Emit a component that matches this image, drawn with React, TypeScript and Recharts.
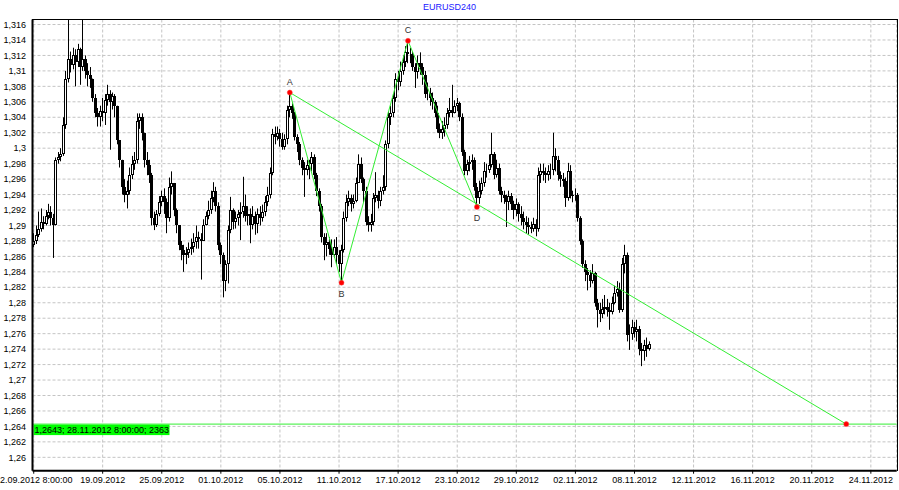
import React from 'react';
import { ComposedChart, Bar, Line, XAxis, YAxis, CartesianGrid, ReferenceLine, ReferenceDot } from 'recharts';

// prices in pips above 1.2600 (EURUSD, 4h bars)
const opens = [
  275, 280, 288, 296, 305, 302, 312, 318, 310, 300,
  385, 388, 392, 430, 490, 515, 508, 520, 512, 528,
  505, 515, 500, 495, 490, 465, 445, 440, 448, 445,
  462, 470, 460, 468, 455, 410, 385, 350, 340, 345,
  365, 380, 385, 435, 440, 420, 385, 378, 365, 310,
  300, 315, 330, 338, 330, 310, 350, 355, 320, 300,
  275, 268, 262, 265, 270, 272, 278, 285, 282, 280,
  300, 312, 320, 335, 345, 325, 275, 262, 228, 250,
  294, 320, 305, 310, 315, 318, 325, 312, 315, 300,
  312, 302, 315, 310, 318, 330, 340, 368, 418, 415,
  420, 412, 402, 412, 450, 455, 445, 415, 405, 385,
  375, 372, 378, 380, 388, 365, 345, 325, 285, 275,
  278, 270, 262, 272, 262, 250, 268, 310, 330, 335,
  328, 332, 355, 380, 360, 345, 305, 300, 305, 335,
  340, 332, 345, 350, 405, 440, 445, 465, 490, 485,
  500, 512, 525, 522, 522, 505, 498, 510, 505, 495,
  470, 472, 465, 460, 445, 425, 420, 425, 430, 445,
  450, 445, 455, 458, 440, 395, 370, 380, 382, 385,
  350, 335, 345, 355, 370, 372, 378, 392, 365, 375,
  345, 340, 335, 330, 338, 328, 320, 328, 315, 310,
  305, 300, 298, 296, 302, 296, 365, 370, 368, 365,
  370, 372, 390, 385, 365, 360, 358, 335, 370, 340,
  338, 340, 310, 280, 250, 240, 236, 228, 238, 200,
  190, 185, 192, 195, 190, 188, 200, 212, 218, 190,
  250, 262, 158, 160, 168, 162, 166, 140, 138, 145,
  140,
];
const highs = [
  290, 300, 318, 322, 312, 320, 328, 325, 315, 388,
  395, 400, 440, 500, 570, 525, 530, 528, 535, 530,
  570, 520, 510, 505, 490, 470, 452, 455, 465, 470,
  482, 475, 472, 470, 455, 410, 385, 360, 358, 375,
  390, 395, 445, 445, 445, 420, 395, 385, 368, 318,
  320, 338, 345, 348, 335, 362, 370, 355, 322, 300,
  280, 275, 272, 278, 283, 290, 300, 292, 290, 308,
  318, 332, 345, 356, 350, 330, 278, 265, 255, 300,
  337, 322, 318, 320, 330, 363, 340, 325, 322, 325,
  318, 322, 325, 327, 338, 350, 375, 425, 428, 428,
  425, 420, 418, 455, 472, 458, 447, 418, 408, 388,
  382, 385, 385, 395, 392, 368, 348, 328, 290, 290,
  285, 282, 282, 285, 268, 275, 318, 340, 345, 340,
  340, 362, 392, 388, 362, 350, 312, 315, 342, 369,
  345, 350, 365, 410, 448, 455, 470, 497, 500, 512,
  520, 532, 539, 530, 525, 510, 520, 524, 510, 500,
  485, 478, 472, 462, 455, 432, 435, 440, 452, 465,
  482, 462, 465, 460, 445, 398, 385, 390, 392, 388,
  355, 358, 362, 382, 380, 392, 420, 395, 385, 380,
  350, 345, 340, 345, 342, 332, 335, 330, 325, 318,
  312, 310, 305, 310, 308, 375, 380, 380, 375, 378,
  380, 420, 400, 390, 370, 368, 362, 381, 378, 345,
  348, 342, 312, 282, 255, 245, 242, 250, 240, 205,
  200, 205, 210, 205, 200, 208, 222, 228, 226, 258,
  275, 265, 172, 178, 175, 178, 170, 148, 152, 155,
  150,
];
const lows = [
  272, 276, 285, 292, 295, 300, 308, 300, 258, 300,
  380, 383, 390, 425, 485, 498, 502, 480, 505, 482,
  500, 490, 480, 478, 460, 440, 428, 428, 435, 430,
  455, 398, 450, 440, 405, 375, 340, 330, 322, 340,
  360, 372, 380, 425, 410, 375, 365, 355, 300, 294,
  298, 312, 325, 315, 290, 305, 340, 312, 290, 268,
  255, 240, 250, 258, 262, 265, 270, 270, 230, 280,
  300, 308, 315, 330, 318, 268, 250, 207, 215, 225,
  290, 295, 296, 300, 281, 310, 305, 300, 277, 295,
  288, 290, 300, 305, 312, 325, 335, 365, 405, 410,
  402, 398, 398, 405, 440, 438, 410, 395, 378, 365,
  337, 365, 360, 370, 360, 338, 318, 278, 255, 260,
  262, 246, 258, 250, 240, 226, 265, 305, 325, 318,
  322, 330, 355, 355, 330, 300, 292, 292, 300, 330,
  322, 325, 340, 345, 400, 430, 440, 460, 475, 480,
  495, 505, 510, 510, 500, 478, 490, 495, 482, 465,
  462, 455, 450, 440, 420, 413, 412, 415, 425, 440,
  440, 445, 448, 435, 390, 365, 365, 370, 372, 345,
  324, 328, 340, 350, 362, 368, 375, 360, 362, 340,
  330, 328, 298, 320, 320, 308, 312, 305, 300, 295,
  290, 288, 290, 292, 286, 292, 355, 358, 355, 358,
  360, 365, 370, 358, 350, 350, 324, 332, 335, 330,
  332, 305, 275, 245, 228, 216, 220, 225, 195, 168,
  175, 180, 185, 182, 165, 185, 198, 208, 187, 188,
  238, 150, 139, 152, 155, 150, 132, 118, 125, 130,
  138,
];
const closes = [
  280, 288, 296, 305, 302, 312, 318, 310, 300, 385,
  388, 392, 430, 490, 515, 508, 520, 512, 528, 505,
  515, 500, 495, 490, 465, 445, 440, 448, 445, 462,
  470, 460, 468, 455, 410, 385, 350, 340, 345, 365,
  380, 385, 435, 440, 420, 385, 378, 365, 310, 300,
  315, 330, 338, 330, 310, 350, 355, 320, 300, 275,
  268, 262, 265, 270, 272, 278, 285, 282, 280, 300,
  312, 320, 335, 345, 325, 275, 262, 228, 250, 294,
  320, 305, 310, 315, 318, 325, 312, 315, 300, 312,
  302, 315, 310, 318, 330, 340, 368, 418, 415, 420,
  412, 402, 412, 450, 455, 445, 415, 405, 385, 375,
  372, 378, 380, 388, 365, 345, 325, 285, 275, 278,
  270, 262, 272, 262, 250, 268, 310, 330, 335, 328,
  332, 355, 380, 360, 345, 305, 300, 305, 335, 340,
  332, 345, 350, 405, 440, 445, 465, 490, 485, 500,
  512, 525, 522, 522, 505, 498, 510, 505, 495, 470,
  472, 465, 460, 445, 425, 420, 425, 430, 445, 450,
  445, 455, 458, 440, 395, 370, 380, 382, 385, 350,
  335, 345, 355, 370, 372, 378, 392, 365, 375, 345,
  340, 335, 330, 338, 328, 320, 328, 315, 310, 305,
  300, 298, 296, 302, 296, 365, 370, 368, 365, 370,
  372, 390, 385, 365, 360, 358, 335, 370, 340, 338,
  340, 310, 280, 250, 240, 236, 228, 238, 200, 190,
  185, 192, 195, 190, 188, 200, 212, 218, 190, 250,
  262, 158, 160, 168, 162, 166, 140, 138, 145, 140,
  146,
];

const totalSlots = 351; // bars incl. empty future area
const xTickIdx = [0, 28, 52, 76, 100, 124, 148, 172, 196, 220, 244, 268, 292, 316, 340];
const xTickLabels = [
  '12.09.2012 8:00:00', '19.09.2012', '25.09.2012', '01.10.2012', '05.10.2012',
  '11.10.2012', '17.10.2012', '23.10.2012', '29.10.2012', '02.11.2012',
  '08.11.2012', '12.11.2012', '16.11.2012', '20.11.2012', '24.11.2012',
];
const yTicks = [
  1.26, 1.262, 1.264, 1.266, 1.268, 1.27, 1.272, 1.274, 1.276, 1.278,
  1.28, 1.282, 1.284, 1.286, 1.288, 1.29, 1.292, 1.294, 1.296, 1.298,
  1.3, 1.302, 1.304, 1.306, 1.308, 1.31, 1.312, 1.314, 1.316,
];

const patternIdx = [104, 125, 152, 180];
const patternVals = [1.3072, 1.2826, 1.3139, 1.2924];
const patternNames = ['A', 'B', 'C', 'D'];
const targetIdx = 330;
const targetVal = 1.2643;
const targetText = '1,2643; 28.11.2012 8:00:00; 2363';
const title = 'EURUSD240';

const FONT = "'Liberation Sans', Arial, sans-serif";
const GREEN = '#33ee33';

const toPrice = (p: number) => 1.26 + p / 10000;

const rows = Array.from({ length: totalSlots }, (_, i) => {
  const row: any = { i };
  if (i < closes.length) {
    row.o = toPrice(opens[i]);
    row.h = toPrice(highs[i]);
    row.l = toPrice(lows[i]);
    row.c = toPrice(closes[i]);
    row.range = [row.l, row.h];
  }
  const k = patternIdx.indexOf(i);
  if (k >= 0) row.abcd = patternVals[k];
  if (i === patternIdx[0]) row.ae = patternVals[0];
  if (i === targetIdx) row.ae = targetVal;
  return row;
});

const fmtY = (v: number) => String(parseFloat(v.toFixed(3))).replace('.', ',');

function Candle(props: any) {
  const { x, y, width, height, payload } = props;
  if (!payload || payload.h == null) return null;
  const top = Math.min(y, y + height);
  const bot = Math.max(y, y + height);
  const span = payload.h - payload.l || 1e-9;
  const toY = (v: number) => top + ((payload.h - v) / span) * (bot - top);
  const cx = Math.floor(x + width / 2) + 0.5;
  const yo = toY(payload.o);
  const yc = toY(payload.c);
  const bTop = Math.round(Math.min(yo, yc));
  const bBot = Math.round(Math.max(yo, yc));
  const up = payload.c >= payload.o;
  return (
    <g>
      <line x1={cx} x2={cx} y1={top} y2={bot} stroke="#000" strokeWidth={1} />
      {up ? (
        <rect x={cx - 1} y={bTop + 0.5} width={2} height={Math.max(bBot - bTop - 1, 0)} fill="#fff" stroke="#000" strokeWidth={1} />
      ) : (
        <rect x={cx - 1.5} y={bTop} width={3} height={Math.max(bBot - bTop, 1)} fill="#000" />
      )}
    </g>
  );
}

function TargetLabel(props: any) {
  const vb = props.viewBox || {};
  const x = vb.x ?? 32;
  const y = vb.y ?? 424;
  return (
    <g>
      <rect x={x + 1} y={y + 0.5} width={136} height={10.5} fill="#00ff00" />
      <text x={x + 2} y={y + 9} fontSize={9} fontFamily={FONT} fill="#000">{targetText}</text>
    </g>
  );
}

export default function App() {
  return (
    <div style={{ position: 'absolute', left: 0, top: 0, width: 899, height: 490, background: '#fff', fontFamily: FONT }}>
      <div style={{ position: 'absolute', left: 0, top: 2, width: 899, textAlign: 'center', fontSize: 9, color: '#2020ff' }}>
        {title}
      </div>
      <ComposedChart width={899} height={490} data={rows} margin={{ top: 19.5, right: 2.3, bottom: 0, left: 0 }}>
        <CartesianGrid stroke="#c4c4c4" strokeDasharray="3 2" />
        <XAxis
          dataKey="i"
          type="category"
          ticks={xTickIdx}
          interval={0}
          height={19.3}
          tickFormatter={(v: number) => xTickLabels[xTickIdx.indexOf(v)] ?? ''}
          axisLine={{ stroke: '#000', strokeWidth: 2 }}
          tickLine={{ stroke: '#000' }}
          tickSize={3}
          tickMargin={3}
          tick={{ fontSize: 9, fill: '#000', fontFamily: FONT }}
        />
        <YAxis
          type="number"
          domain={[1.25827, 1.31665]}
          allowDataOverflow
          ticks={yTicks}
          interval={0}
          width={32.5}
          tickFormatter={fmtY}
          axisLine={{ stroke: '#000', strokeWidth: 2 }}
          tickLine={false}
          tickSize={3}
          tickMargin={3.5}
          tick={{ fontSize: 9, fill: '#000', fontFamily: FONT }}
        />
        <ReferenceLine y={targetVal} stroke={GREEN} strokeWidth={1} label={<TargetLabel />} />
        <Bar dataKey="range" isAnimationActive={false} shape={(p: any) => <Candle {...p} />} />
        <Line dataKey="abcd" stroke={GREEN} strokeWidth={1} dot={false} connectNulls isAnimationActive={false} />
        <Line dataKey="ae" stroke={GREEN} strokeWidth={1} dot={false} connectNulls isAnimationActive={false} />
        {patternIdx.map((idx, k) => (
          <ReferenceDot
            key={patternNames[k]}
            x={idx}
            y={patternVals[k]}
            r={2.5}
            fill="#ff0000"
            stroke="#ff4040"
            strokeWidth={0.5}
            label={{ value: patternNames[k], position: k % 2 === 0 ? 'top' : 'bottom', fontSize: 9, fill: '#333', fontFamily: FONT }}
          />
        ))}
        <ReferenceDot x={targetIdx} y={targetVal} r={2.5} fill="#ff0000" stroke="#ff4040" strokeWidth={0.5} />
      </ComposedChart>
      <div style={{ position: 'absolute', left: 31.5, top: 19, width: 866, height: 0, borderTop: '1px solid #000', pointerEvents: 'none' }} />
      <div style={{ position: 'absolute', left: 896.5, top: 19, width: 0, height: 452, borderLeft: '1px solid #000', pointerEvents: 'none' }} />
    </div>
  );
}
